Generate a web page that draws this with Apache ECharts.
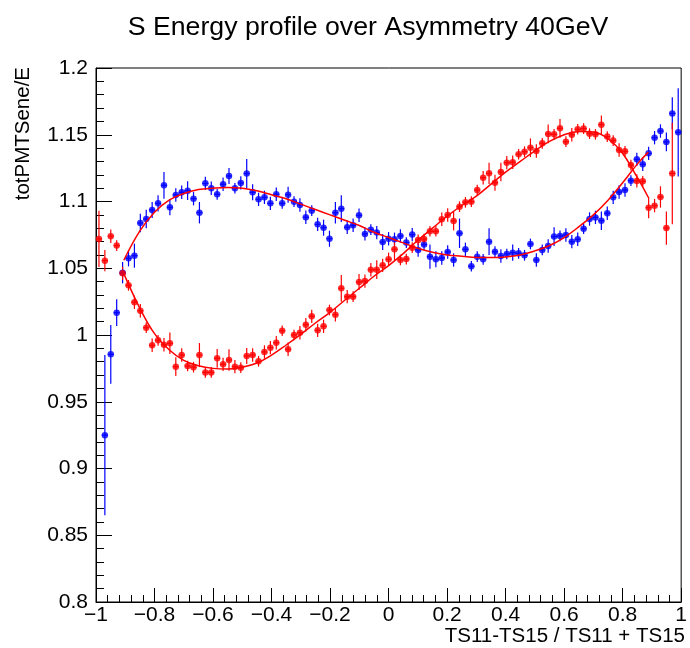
<!DOCTYPE html>
<html><head><meta charset="utf-8">
<script src="https://cdn.jsdelivr.net/npm/echarts@6/dist/echarts.min.js"></script>
<style>html,body{margin:0;padding:0;background:#fff}#c{width:690px;height:648px}</style>
</head><body><div id="c"></div>
<script>
// bin centres of the profile (99 bins on [-1, 1])
const binX = [-0.98990,-0.96970,-0.94949,-0.92929,-0.90909,-0.88889,-0.86869,-0.84848,-0.82828,-0.80808,
-0.78788,-0.76768,-0.74747,-0.72727,-0.70707,-0.68687,-0.66667,-0.64646,-0.62626,-0.60606,
-0.58586,-0.56566,-0.54545,-0.52525,-0.50505,-0.48485,-0.46465,-0.44444,-0.42424,-0.40404,
-0.38384,-0.36364,-0.34343,-0.32323,-0.30303,-0.28283,-0.26263,-0.24242,-0.22222,-0.20202,
-0.18182,-0.16162,-0.14141,-0.12121,-0.10101,-0.08081,-0.06061,-0.04040,-0.02020,0,
0.02020,0.04040,0.06061,0.08081,0.10101,0.12121,0.14141,0.16162,0.18182,0.20202,
0.22222,0.24242,0.26263,0.28283,0.30303,0.32323,0.34343,0.36364,0.38384,0.40404,
0.42424,0.44444,0.46465,0.48485,0.50505,0.52525,0.54545,0.56566,0.58586,0.60606,
0.62626,0.64646,0.66667,0.68687,0.70707,0.72727,0.74747,0.76768,0.78788,0.80808,
0.82828,0.84848,0.86869,0.88889,0.90909,0.92929,0.94949,0.96970,0.98990];

const redY = [1.072,1.0557,1.074,1.067,1.0462,1.0372,1.0245,1.0182,1.0055,0.9923,
0.996,0.9927,0.9938,0.9763,0.985,0.9768,0.9759,0.985,0.972,0.972,
0.9825,0.978,0.9813,0.9763,0.9755,0.9843,0.985,0.9803,0.9873,0.9905,
0.9942,1.0032,0.9893,1.0,1.0017,1.0077,1.014,1.0035,1.0065,1.0187,
1.0152,1.035,1.0287,1.0287,1.0397,1.0404,1.0489,1.0489,1.0522,1.0567,
1.0642,1.0562,1.0569,1.0654,1.0712,1.0719,1.0777,1.0777,1.0867,1.0899,
1.0854,1.0961,1.0994,1.0999,1.1086,1.1178,1.1211,1.1141,1.1221,1.1291,
1.1294,1.1354,1.1373,1.1403,1.1378,1.1436,1.1506,1.1503,1.1548,1.1448,
1.150,1.1541,1.1546,1.1508,1.1503,1.1575,1.1486,1.1456,1.1386,1.1376,
1.1273,1.1154,1.1151,1.0954,1.0969,1.1034,1.0801,1.1210,null];
const redErr = [0.021,0.008,0.005,0.004,0.005,0.004,0.005,0.005,0.004,0.005,
0.004,0.005,0.008,0.007,0.005,0.004,0.004,0.009,0.004,0.004,
0.007,0.005,0.008,0.005,0.004,0.006,0.005,0.004,0.005,0.005,
0.005,0.004,0.005,0.004,0.005,0.005,0.005,0.005,0.005,0.004,
0.005,0.010,0.005,0.004,0.006,0.005,0.005,0.007,0.005,0.005,
0.008,0.004,0.004,0.004,0.004,0.004,0.004,0.004,0.005,0.005,
0.007,0.004,0.004,0.004,0.004,0.005,0.008,0.006,0.007,0.005,
0.005,0.004,0.004,0.007,0.005,0.004,0.007,0.004,0.007,0.004,
0.005,0.004,0.004,0.004,0.004,0.007,0.004,0.004,0.005,0.004,
0.004,0.005,0.004,0.008,0.005,0.008,0.0125,0.038,null];

const blueY = [null,0.925,0.9855,1.0167,1.0467,1.0574,1.0594,1.0839,1.0869,1.0936,
1.0986,1.1121,1.0957,1.1049,1.1069,1.1081,1.1021,1.0916,1.1136,1.1099,
1.1054,1.1129,1.1191,1.1099,1.1139,1.1209,1.1069,1.1016,1.1031,1.0986,
1.1054,1.0986,1.1051,1.0999,1.0974,1.0882,1.0931,1.0829,1.0804,1.0721,
1.0916,1.0946,1.0807,1.0822,1.0897,1.0757,1.0789,1.0767,1.0697,1.0721,
1.0717,1.0742,1.0692,1.0752,1.0637,1.0677,1.0587,1.0567,1.0577,1.0622,
1.0562,1.0762,1.0642,1.0515,1.0587,1.0567,1.0699,1.0624,1.0592,1.0607,
1.0617,1.0612,1.0597,1.0682,1.0562,1.0637,1.0667,1.0737,1.0742,1.0749,
1.0699,1.0717,1.0796,1.0869,1.0881,1.0856,1.0912,1.1031,1.1071,1.1086,
1.1156,1.1316,1.1279,1.1361,1.1478,1.1528,1.1446,1.166,1.1518];
const blueErr = [null,0.06,0.022,0.010,0.008,0.006,0.009,0.007,0.007,0.006,
0.006,0.010,0.006,0.005,0.005,0.007,0.005,0.008,0.005,0.005,
0.004,0.005,0.006,0.004,0.005,0.011,0.006,0.005,0.005,0.005,
0.005,0.004,0.006,0.004,0.005,0.005,0.004,0.005,0.006,0.006,
0.008,0.010,0.005,0.005,0.005,0.005,0.004,0.005,0.006,0.005,
0.005,0.005,0.004,0.005,0.005,0.004,0.009,0.006,0.005,0.005,
0.005,0.011,0.005,0.004,0.004,0.004,0.010,0.004,0.005,0.004,
0.006,0.004,0.004,0.004,0.005,0.004,0.005,0.007,0.004,0.005,
0.005,0.005,0.004,0.005,0.005,0.007,0.005,0.005,0.005,0.005,
0.004,0.005,0.005,0.005,0.005,0.005,0.007,0.012,0.033];

// fitted curves
const fitX = [-0.905,-0.85,-0.8,-0.75,-0.7,-0.65,-0.6,-0.55,-0.5,-0.45,-0.4,-0.35,-0.3,-0.25,-0.2,-0.15,-0.1,-0.05,0,
0.05,0.1,0.15,0.2,0.25,0.3,0.35,0.4,0.45,0.5,0.55,0.6,0.65,0.7,0.75,0.8,0.85,0.888];
const redFitY = [1.046,1.020,1.001,0.989,0.981,0.977,0.975,0.9745,0.976,0.979,0.985,0.9925,1.0005,1.009,1.017,1.026,1.035,1.044,1.052,
1.061,1.071,1.080,1.089,1.097,1.104,1.113,1.122,1.130,1.138,1.145,1.150,1.1525,1.152,1.147,1.136,1.118,1.103];
const blueFitY = [1.056,1.078,1.092,1.101,1.106,1.109,1.110,1.1105,1.110,1.108,1.105,1.102,1.098,1.094,1.090,1.086,1.082,1.077,1.073,
1.069,1.065,1.062,1.060,1.059,1.058,1.058,1.0585,1.060,1.063,1.067,1.073,1.081,1.090,1.101,1.114,1.128,1.137];

const halfBin = 1 / 99;
const FONT = '"Liberation Sans", Arial, Helvetica, sans-serif';

function rows(ys, es) {
  const out = [];
  for (let i = 0; i < binX.length; i++) if (ys[i] != null) out.push([binX[i], ys[i], es[i]]);
  return out;
}
function pairs(xs, ys) { return xs.map((x, i) => [x, ys[i]]); }

function errRender(params, api) {
  const x = api.value(0), y = api.value(1), e = api.value(2);
  const t = api.coord([x, y + e]), b = api.coord([x, y - e]);
  const l = api.coord([x - halfBin, y]), r = api.coord([x + halfBin, y]);
  const c = api.visual('color');
  return { type: 'group', children: [
    { type: 'line', shape: { x1: t[0], y1: t[1], x2: b[0], y2: b[1] }, style: { stroke: c, lineWidth: 1.2 } },
    { type: 'line', shape: { x1: l[0], y1: l[1], x2: r[0], y2: r[1] }, style: { stroke: c, lineWidth: 1.2 } }
  ]};
}

const redRows = rows(redY, redErr), blueRows = rows(blueY, blueErr);
const minus = v => String(v).replace('-', '\u2212');

const chart = echarts.init(document.getElementById('c'), null, { renderer: 'canvas' });
chart.setOption({
  animation: false,
  backgroundColor: '#fff',
  grid: { left: 96, right: 5, top: 68, bottom: 46, show: true, borderColor: '#000', borderWidth: 1, backgroundColor: 'transparent' },
  graphic: [
    { type: 'text', x: 368, y: 28, style: { text: 'S Energy profile over Asymmetry 40GeV', font: '26.7px ' + FONT, fill: '#000', textAlign: 'center', textVerticalAlign: 'middle' } },
    { type: 'text', x: 685, y: 636, style: { text: 'TS11-TS15 / TS11 + TS15', font: '20.5px ' + FONT, fill: '#000', textAlign: 'right', textVerticalAlign: 'middle' } },
    { type: 'text', x: 23, y: 67, rotation: Math.PI / 2, style: { text: 'totPMTSene/E', font: '20.5px ' + FONT, fill: '#000', textAlign: 'right', textVerticalAlign: 'middle' } }
  ],
  xAxis: {
    type: 'value', min: -1, max: 1, interval: 0.2,
    axisLine: { show: true, onZero: false, lineStyle: { color: '#000', width: 1 } },
    axisTick: { show: true, inside: true, length: 14, lineStyle: { color: '#000', width: 1 } },
    minorTick: { show: true, splitNumber: 5, length: 7, lineStyle: { color: '#000', width: 1 } },
    splitLine: { show: false },
    axisLabel: { color: '#000', fontSize: 21, fontFamily: FONT, margin: 3, formatter: minus }
  },
  yAxis: {
    type: 'value', min: 0.8, max: 1.2, interval: 0.05,
    axisLine: { show: true, onZero: false, lineStyle: { color: '#000', width: 1 } },
    axisTick: { show: true, inside: true, length: 16, lineStyle: { color: '#000', width: 1 } },
    minorTick: { show: true, splitNumber: 5, length: 8, lineStyle: { color: '#000', width: 1 } },
    splitLine: { show: false },
    axisLabel: { color: '#000', fontSize: 21, fontFamily: FONT, margin: 8 }
  },
  series: [
    { type: 'custom', name: 'blueErr', renderItem: errRender, data: blueRows, clip: true, encode: { x: 0, y: 1 }, itemStyle: { color: '#0000ff' }, z: 2 },
    { type: 'scatter', name: 'blue', data: blueRows.map(r => [r[0], r[1]]), symbol: 'circle', symbolSize: 6.5, itemStyle: { color: '#0000ff' }, z: 3 },
    { type: 'custom', name: 'redErr', renderItem: errRender, data: redRows, clip: true, encode: { x: 0, y: 1 }, itemStyle: { color: '#ff0000' }, z: 2 },
    { type: 'scatter', name: 'red', data: redRows.map(r => [r[0], r[1]]), symbol: 'circle', symbolSize: 6.5, itemStyle: { color: '#ff0000' }, z: 3 },
    { type: 'line', name: 'redFit', data: pairs(fitX, redFitY), smooth: 0.4, showSymbol: false, lineStyle: { color: '#ff0000', width: 1.5 }, z: 4 },
    { type: 'line', name: 'blueFit', data: pairs(fitX, blueFitY), smooth: 0.4, showSymbol: false, lineStyle: { color: '#ff0000', width: 1.5 }, z: 4 }
  ]
});
</script>
</body></html>
